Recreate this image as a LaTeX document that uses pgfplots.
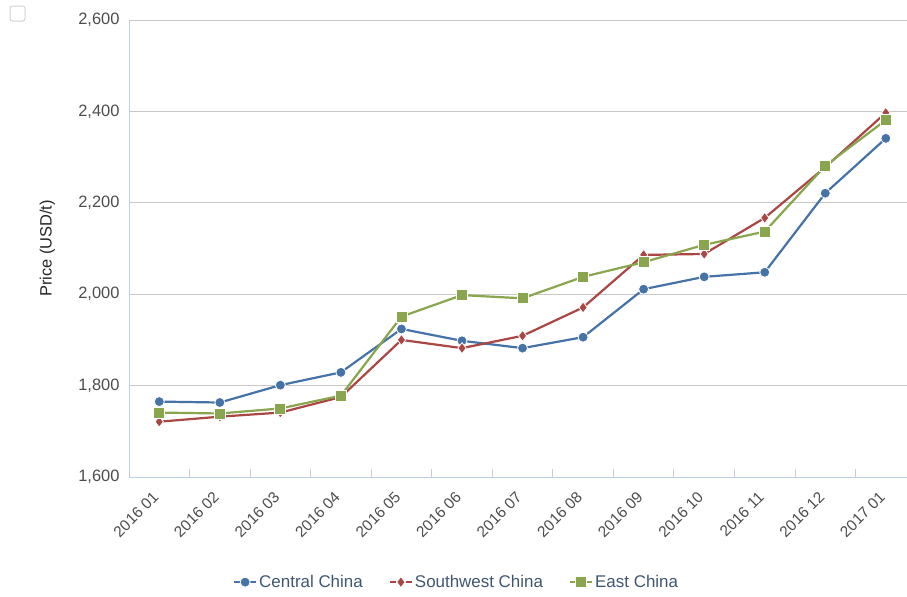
\documentclass[border=0pt]{standalone}
\usepackage{pgfplots}
\pgfplotsset{compat=1.18}
\usepackage{fontspec}
\setmainfont{Liberation Sans}
\definecolor{cblue}{HTML}{4572A7}
\definecolor{cred}{HTML}{AA4643}
\definecolor{cgreen}{HTML}{89A54E}
\definecolor{gridc}{HTML}{C8C8C8}
\definecolor{axc}{HTML}{C0D0E0}
\definecolor{lblc}{HTML}{4D4D4D}
\definecolor{legc}{HTML}{3E576F}
\begin{document}
\begin{tikzpicture}
\path[use as bounding box] (0,0) rectangle (907bp,-597bp);
\draw[gray!35, line width=1bp, rounded corners=2.5bp, fill=white] (10bp,-6bp) rectangle (25bp,-21bp);
\begin{axis}[
  at={(129bp,-477bp)}, anchor=south west,
  scale only axis, width=778bp, height=457bp,
  xmin=-0.5, xmax=12.35, ymin=1600, ymax=2600,
  axis x line*=bottom, axis y line*=left,
  x axis line style={-, draw=axc, line width=1bp},
  y axis line style={-, draw=axc, line width=1bp},
  xtick={0,...,12},
  xticklabels={2016 01,2016 02,2016 03,2016 04,2016 05,2016 06,2016 07,2016 08,2016 09,2016 10,2016 11,2016 12,2017 01},
  major x tick style={draw=none},
  minor xtick={0.5,1.5,...,11.5},
  minor x tick style={draw=axc, line width=1bp},
  minor tick length=8bp,
  tick align=inside,
  xticklabel style={xshift=-7.5bp, yshift=-9bp, rotate=45, anchor=north east, font=\fontsize{15.5}{18}\selectfont, text=lblc},
  ytick={1600,1800,...,2600},
  ytick style={draw=none},
  ymajorgrids, major grid style={draw=gridc, line width=1bp},
  yticklabel style={font=\fontsize{16.5}{19}\selectfont, text=lblc, xshift=-6bp},
  /pgf/number format/.cd, 1000 sep={,}, assume math mode=true, /pgfplots/.cd,
  scaled y ticks=false,
  ylabel={Price (USD/t)},
  ylabel style={at={(axis description cs:-0.105,0.5)}, anchor=center, font=\fontsize{16.5}{19}\selectfont, text=black!85},
  legend style={at={(0.421,-0.23)}, anchor=center, legend columns=3, draw=none, fill=none,
    font=\fontsize{17}{20}\selectfont, text=legc,
    /tikz/every even column/.append style={column sep=24bp}},
  legend image code/.code={
    \draw[#1, mark=none] (0bp,0bp) -- (6bp,0bp);
    \draw[#1, mark=none] (16bp,0bp) -- (22bp,0bp);
    \draw[#1] plot coordinates {(11bp,0bp)};},
  every axis plot/.append style={line width=2.2bp},
  clip=false,
]
\addplot[cblue, mark=*, mark size=5bp, mark options={draw=white, line width=0.8bp, fill=cblue}] coordinates {
(0,1765) (1,1763) (2,1801) (3,1829) (4,1924) (5,1898) (6,1882) (7,1906) (8,2011) (9,2038) (10,2048) (11,2221) (12,2341)};
\addlegendentry{Central China}
\addplot[cred, mark=diamond*, mark size=5.5bp, mark options={draw=white, line width=0.8bp, fill=cred}] coordinates {
(0,1721) (1,1732) (2,1741) (3,1775) (4,1900) (5,1882) (6,1909) (7,1971) (8,2086) (9,2088) (10,2167) (11,2278) (12,2397)};
\addlegendentry{Southwest China}
\addplot[cgreen, mark=square*, mark size=5.5bp, mark options={draw=white, line width=0.8bp, fill=cgreen}] coordinates {
(0,1741) (1,1739) (2,1750) (3,1778) (4,1951) (5,1998) (6,1991) (7,2038) (8,2070) (9,2108) (10,2137) (11,2281) (12,2381)};
\addlegendentry{East China}
\end{axis}
\end{tikzpicture}
\end{document}
